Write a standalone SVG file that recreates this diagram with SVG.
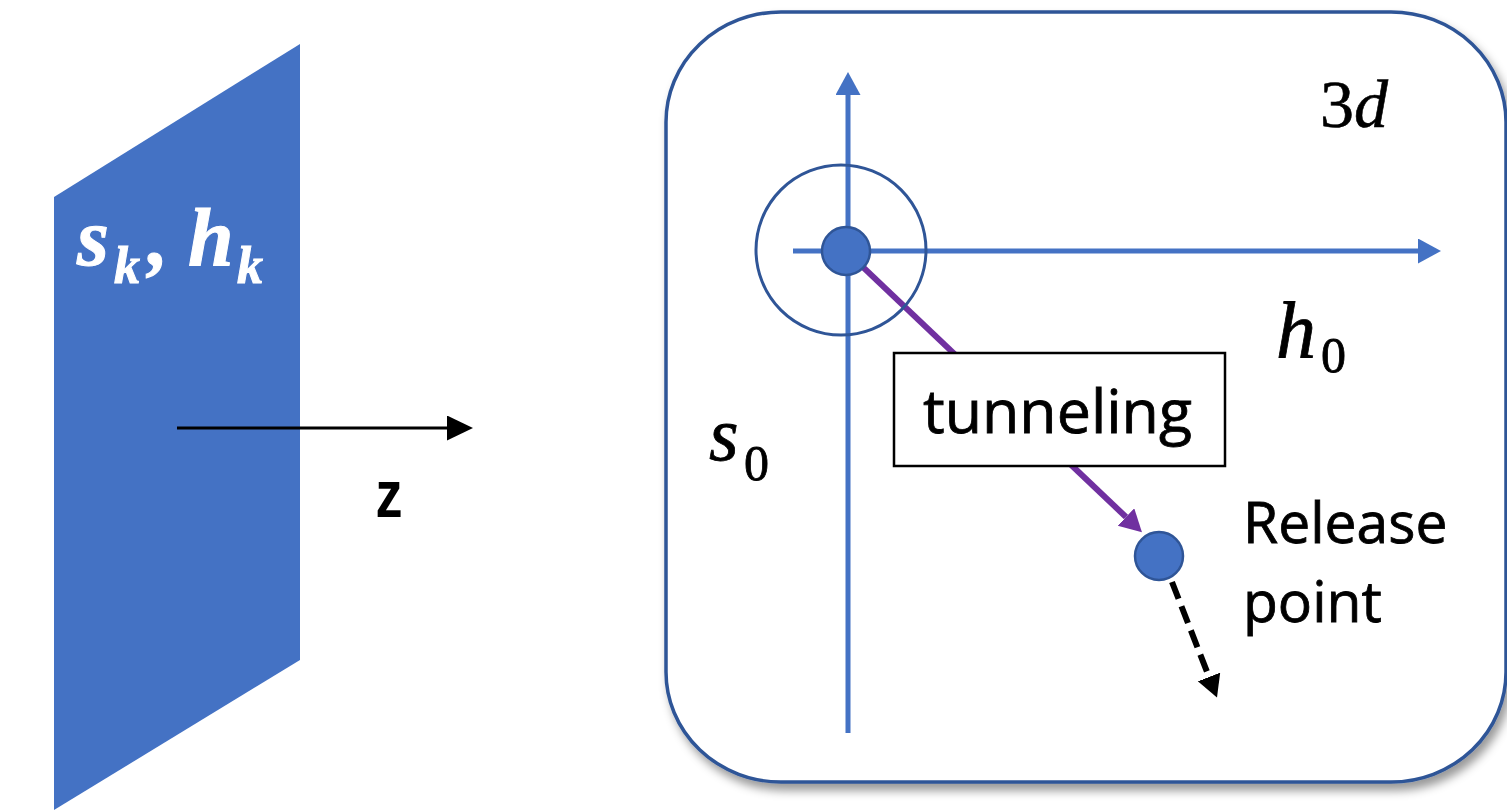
<svg xmlns="http://www.w3.org/2000/svg" width="1507" height="810" viewBox="0 0 1507 810">
  <defs>
    <style>
      .math { font-family: "Liberation Serif", "DejaVu Serif", serif; font-style: italic; }
      .label { font-family: "Open Sans", "Liberation Sans", sans-serif; fill: #000; }
      .axis { stroke: #4472C4; stroke-width: 5; fill: none; }
      .dot { fill: #4472C4; stroke: #2F5597; stroke-width: 2.5; }
    </style>
    <filter id="shadow" x="-10%" y="-10%" width="120%" height="120%">
      <feDropShadow dx="4" dy="7" stdDeviation="5" flood-color="#000" flood-opacity="0.4"/>
    </filter>
    <marker id="headBlue" markerUnits="userSpaceOnUse" markerWidth="24" markerHeight="26" refX="0" refY="12.5" orient="auto">
      <path d="M0,0 L23,12.5 L0,25 z" fill="#4472C4"/>
    </marker>
    <marker id="headBlack" markerUnits="userSpaceOnUse" markerWidth="28" markerHeight="26" refX="0" refY="12.5" orient="auto">
      <path d="M0,0 L26,12.5 L0,25 z" fill="#000"/>
    </marker>
    <marker id="headPurple" markerUnits="userSpaceOnUse" markerWidth="24" markerHeight="26" refX="0" refY="12" orient="auto">
      <path d="M0,0 L22,12 L0,24 z" fill="#7030A0"/>
    </marker>
    <marker id="headDash" markerUnits="userSpaceOnUse" markerWidth="24" markerHeight="26" refX="0" refY="12" orient="auto">
      <path d="M0,0 L22,12 L0,24 z" fill="#000"/>
    </marker>
  </defs>

  <rect width="1507" height="810" fill="#fff"/>

  <g id="layer-plane">
    <polygon points="54,197 300,44 300,660 54,810" fill="#4472C4"/>
    <text class="math" font-weight="bold" fill="#fff" stroke="#fff" stroke-width="1">
      <tspan x="77" y="265" font-size="82">s</tspan><tspan x="114" y="283" font-size="52">k</tspan><tspan x="148" y="265" font-size="82">,</tspan><tspan x="188" y="265" font-size="82">h</tspan><tspan x="237" y="283" font-size="52">k</tspan>
    </text>
  </g>

  <g id="panel-3d">
    <rect x="666" y="12" width="840" height="770" rx="115" ry="110" fill="#fff" stroke="#2F5597" stroke-width="3.5" filter="url(#shadow)"/>
    <text class="math" font-size="68" fill="#000" stroke="#000" stroke-width="0.6"><tspan x="1320" y="127" font-style="normal">3</tspan><tspan>d</tspan></text>
  </g>

  <g id="connectors">
    <line x1="177" y1="428" x2="447" y2="428" stroke="#000" stroke-width="3" marker-end="url(#headBlack)"/>
    <line class="axis" x1="848" y1="733" x2="848" y2="95" marker-end="url(#headBlue)"/>
    <line class="axis" x1="793" y1="251" x2="1418" y2="251" marker-end="url(#headBlue)"/>
    <line x1="846" y1="251" x2="1126" y2="517" stroke="#7030A0" stroke-width="6" marker-end="url(#headPurple)"/>
    <line x1="1172" y1="582" x2="1209" y2="677" stroke="#000" stroke-width="6" stroke-dasharray="18 8" marker-end="url(#headDash)"/>
  </g>

  <g id="z-label">
    <text x="389" y="517" font-family="Liberation Sans, Arial, sans-serif" font-weight="bold" font-size="66" text-anchor="middle" transform="translate(389 0) scale(0.82 1) translate(-389 0)">z</text>
  </g>

  <g id="origin">
    <circle cx="841" cy="250" r="85" fill="none" stroke="#2F5597" stroke-width="3"/>
    <circle class="dot" cx="846" cy="251" r="24"/>
  </g>

  <g id="tunneling">
    <rect x="894" y="353" width="331" height="113" fill="#fff" stroke="#000" stroke-width="2.5"/>
    <text class="label" x="923" y="433" font-size="60" stroke="#000" stroke-width="0.8" textLength="269" lengthAdjust="spacingAndGlyphs">tunneling</text>
  </g>

  <g id="release-point">
    <circle class="dot" cx="1159" cy="556" r="24"/>
    <text class="label" font-size="57" stroke="#000" stroke-width="0.8"><tspan x="1243" y="543">Release</tspan><tspan x="1243" y="622">point</tspan></text>
  </g>

  <g id="s0-label">
    <text class="math" fill="#000" stroke="#000" stroke-width="0.8"><tspan x="709" y="460" font-size="76">s</tspan><tspan x="744" y="480" font-size="50" font-style="normal">0</tspan></text>
  </g>

  <g id="h0-label">
    <text class="math" fill="#000" stroke="#000" stroke-width="0.8"><tspan x="1276" y="357" font-size="80">h</tspan><tspan x="1321" y="372" font-size="50" font-style="normal">0</tspan></text>
  </g>
</svg>
